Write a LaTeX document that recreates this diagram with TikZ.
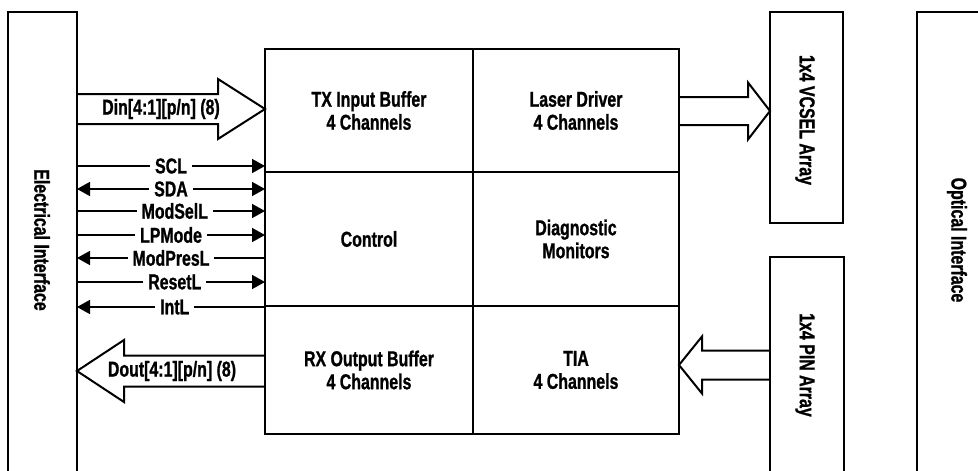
\documentclass[tikz,border=0pt]{standalone}
\usepackage{fontspec}
\setmainfont{Liberation Sans}[FakeStretch=0.74,BoldFeatures={FakeBold=1}]
\usetikzlibrary{arrows.meta,calc}
\begin{document}
\begin{tikzpicture}[x=1pt,y=-1pt,
  box/.style={draw,line width=2pt,inner sep=0pt,outer sep=0pt,anchor=north west},
  lbl/.style={font=\fontsize{21.5}{23}\selectfont\bfseries,align=center,inner sep=0pt},
  sig/.style={line width=1.6pt},
  tipr/.style={-{Triangle[length=13pt,width=14pt]}},
  tipl/.style={{Triangle[length=13pt,width=14pt]}-},
  tipb/.style={{Triangle[length=13pt,width=14pt]}-{Triangle[length=13pt,width=14pt]}},
  slbl/.style={lbl,fill=white,inner xsep=5pt,inner ysep=0pt},
  fat/.style={line width=2pt,line join=miter}
]
\useasboundingbox (0,0) rectangle (978,471);

% side boxes
\node[box,minimum width=69pt,minimum height=520pt] (elec) at (8,12) {};
\node[lbl,rotate=-90] (elecl) at (42,240) {Electrical Interface};
\node[box,minimum width=73pt,minimum height=211pt] (vcsel) at (770,12) {};
\node[lbl,rotate=-90] (vcsell) at (805,120) {1x4 VCSEL Array};
\node[box,minimum width=74pt,minimum height=300pt] (pin) at (770,257) {};
\node[lbl,rotate=-90] (pinl) at (805,365) {1x4 PIN Array};
\node[box,minimum width=120pt,minimum height=520pt] (opt) at (917,12) {};
\node[lbl,rotate=-90] (optl) at (957,240) {Optical Interface};

% central block cells
\node[box,lbl,minimum width=208pt,minimum height=123pt] (tx) at (265,49) {TX Input Buffer\\4 Channels};
\node[box,lbl,minimum width=206pt,minimum height=123pt] (ld) at (473,49) {Laser Driver\\4 Channels};
\node[box,lbl,minimum width=208pt,minimum height=134pt] (ctrl) at (265,172) {Control};
\node[box,lbl,minimum width=206pt,minimum height=134pt] (diag) at (473,172) {Diagnostic\\Monitors};
\node[box,lbl,minimum width=208pt,minimum height=128pt] (rx) at (265,306) {RX Output Buffer\\4 Channels};
\node[box,lbl,minimum width=206pt,minimum height=128pt] (tia) at (473,306) {TIA\\4 Channels};

% control signals
\draw[sig,tipr] (elec.east |- 0,166) -- (ctrl.west |- 0,166) node[slbl,pos=0.5] (scl) {SCL};
\draw[sig,tipb] (elec.east |- 0,189) -- (ctrl.west |- 0,189) node[slbl,pos=0.5] (sda) {SDA};
\draw[sig,tipr] (elec.east |- 0,211) -- (ctrl.west |- 0,211) node[slbl,pos=0.52] (modsel) {ModSelL};
\draw[sig,tipr] (elec.east |- 0,235) -- (ctrl.west |- 0,235) node[slbl,pos=0.5] (lpmode) {LPMode};
\draw[sig,tipl] (elec.east |- 0,258) -- (ctrl.west |- 0,258) node[slbl,pos=0.5] (modpres) {ModPresL};
\draw[sig,tipr] (elec.east |- 0,282) -- (ctrl.west |- 0,282) node[slbl,pos=0.52] (reset) {ResetL};
\draw[sig,tipl] (elec.east |- 0,307) -- (ctrl.west |- 0,307) node[slbl,pos=0.52] (intl) {IntL};

% fat arrows
\draw[fat] let \p1=(elec.east |- 0,109), \p2=(tx.west |- 0,109) in
  (\x1,\y1+15pt) -- (\x2-47pt,\y1+15pt) -- (\x2-47pt,\y1+30pt) -- (\x2,\y1)
  -- (\x2-47pt,\y1-30pt) -- (\x2-47pt,\y1-15pt) -- (\x1,\y1-15pt);
\node[lbl] (dinl) at (161,109) {Din[4:1][p/n] (8)};

\draw[fat] let \p1=(rx.west |- 0,371), \p2=(elec.east |- 0,371) in
  (\x1,\y1+15.5pt) -- (\x2+47pt,\y1+15.5pt) -- (\x2+47pt,\y1+31pt) -- (\x2,\y1)
  -- (\x2+47pt,\y1-31pt) -- (\x2+47pt,\y1-15.5pt) -- (\x1,\y1-15.5pt);
\node[lbl] (doutl) at (172,371) {Dout[4:1][p/n] (8)};

\draw[fat] let \p1=(ld.east |- 0,111), \p2=(vcsel.west |- 0,111) in
  (\x1,\y1+14pt) -- (\x2-22pt,\y1+14pt) -- (\x2-22pt,\y1+28.5pt) -- (\x2,\y1)
  -- (\x2-22pt,\y1-28.5pt) -- (\x2-22pt,\y1-14pt) -- (\x1,\y1-14pt);

\draw[fat] let \p1=(pin.west |- 0,365), \p2=(tia.east |- 0,365) in
  (\x1,\y1+14.5pt) -- (\x2+23pt,\y1+14.5pt) -- (\x2+23pt,\y1+28.5pt) -- (\x2,\y1)
  -- (\x2+23pt,\y1-28.5pt) -- (\x2+23pt,\y1-14.5pt) -- (\x1,\y1-14.5pt);
\end{tikzpicture}
\end{document}
